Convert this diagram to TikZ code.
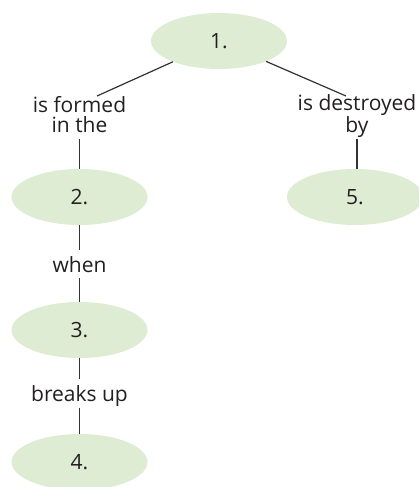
\documentclass[tikz,border=0pt]{standalone}
\usepackage{fontspec}
\setmainfont{Open Sans}
\usetikzlibrary{shapes.geometric}
\definecolor{bubble}{RGB}{222,236,211}
\definecolor{ink}{RGB}{35,31,32}
\definecolor{wire}{RGB}{50,50,50}
\tikzset{
  bub/.style={ellipse, fill=bubble, draw=none, minimum width=136pt, minimum height=56pt, inner sep=0pt, text=ink, font=\fontsize{21}{20}\selectfont},
  lab/.style={inner sep=6pt, text depth=0pt, align=center, text=ink, font=\fontsize{21}{20}\selectfont},
  conn/.style={draw=wire, line width=1.2pt}
}
\begin{document}
\begin{tikzpicture}[x=1pt,y=-1pt]
\useasboundingbox (0,0) rectangle (419,487);
\node[bub] (e1) at (219,41) {1.};
\node[bub] (e2) at (79.5,197) {2.};
\node[bub] (e3) at (79.5,330) {3.};
\node[bub] (e4) at (79.5,462) {4.};
\node[bub] (e5) at (355,197) {5.};
\node[lab, anchor=south] (l1) at (79.5,139) {is formed\\in the};
\node[lab, anchor=south] (l5) at (357,139) {is destroyed\\by};
\node[lab, anchor=base] (l2) at (79.5,272) {when};
\node[lab, anchor=base] (l3) at (79.5,401.5) {breaks up};
\coordinate (c1) at (97,96);
\coordinate (c5) at (346,96);
\draw[conn] (e1) -- (c1);
\draw[conn] (e1) -- (c5);
\draw[conn] (l1) -- (e2);
\draw[conn] (l5) -- (l5 |- e5.north);
\draw[conn] (e2) -- (l2);
\draw[conn] (l2) -- (e3);
\draw[conn] (e3) -- (l3);
\draw[conn] (l3) -- (e4);
\end{tikzpicture}
\end{document}
